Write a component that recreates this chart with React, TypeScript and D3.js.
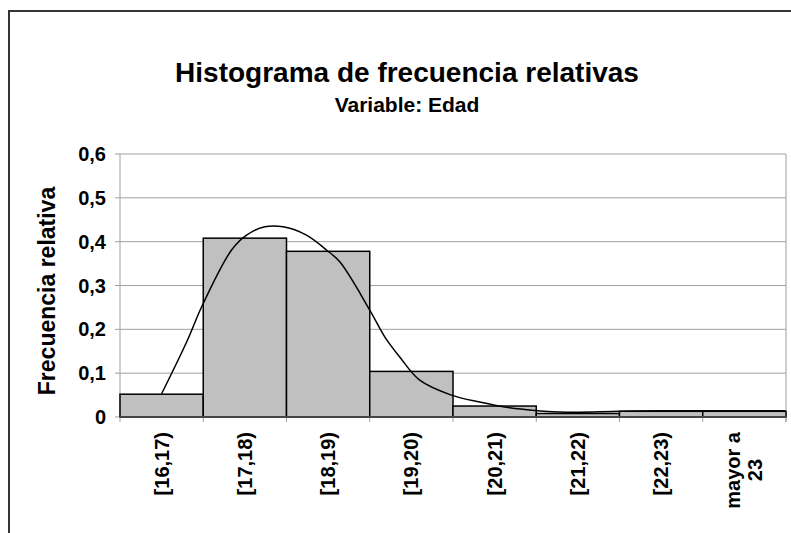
import React, { useEffect, useRef } from 'react';
import * as d3 from 'd3';

// categorías del histograma
const categories = ['[16,17)', '[17,18)', '[18,19)', '[19,20)', '[20,21)', '[21,22)', '[22,23)', 'mayor a 23'];
const frequencies = [0.052, 0.408, 0.378, 0.104, 0.025, 0.008, 0.013, 0.013];
const yTicks = [0, 0.1, 0.2, 0.3, 0.4, 0.5, 0.6];

// curva ajustada: edad (eje continuo) y valor
const curveAges = [16.5, 16.81, 16.98, 17.34, 17.52, 17.74, 17.96, 18.24, 18.48, 18.64, 19.0, 19.18, 19.36, 19.6, 19.98, 20.32, 20.68, 20.98, 21.37, 22.01, 22.49, 23.99];
const curveValues = [0.053, 0.175, 0.251, 0.381, 0.415, 0.434, 0.434, 0.415, 0.381, 0.354, 0.244, 0.183, 0.137, 0.084, 0.05, 0.034, 0.021, 0.015, 0.011, 0.013, 0.014, 0.014];

const FONT = 'Arial, "Liberation Sans", sans-serif';

function App() {
  const ref = useRef<SVGSVGElement>(null);

  const width = 791;
  const height = 533;
  const margin = { top: 154, right: 5, bottom: 116, left: 120 };

  useEffect(() => {
    drawChart();
  }, []);

  function drawChart() {
    const svg = d3.select(ref.current);
    svg.selectAll('*').remove();

    const innerW = width - margin.left - margin.right;
    const innerH = height - margin.top - margin.bottom;

    // marco exterior
    svg
      .append('path')
      .attr('d', `M9,${height} L9,11 L${width},11`)
      .attr('fill', 'none')
      .attr('stroke', '#333')
      .attr('stroke-width', 2);

    // títulos
    svg
      .append('text')
      .attr('x', 407)
      .attr('y', 82)
      .attr('text-anchor', 'middle')
      .style('font-family', FONT)
      .style('font-weight', 'bold')
      .style('font-size', '28px')
      .text('Histograma de frecuencia relativas');

    svg
      .append('text')
      .attr('x', 407)
      .attr('y', 112)
      .attr('text-anchor', 'middle')
      .style('font-family', FONT)
      .style('font-weight', 'bold')
      .style('font-size', '21px')
      .text('Variable: Edad');

    const g = svg.append('g').attr('transform', `translate(${margin.left}, ${margin.top})`);

    const x = d3.scaleBand().domain(categories).range([0, innerW]).padding(0);
    const xAge = d3.scaleLinear().domain([16, 24]).range([0, innerW]);
    const y = d3.scaleLinear().domain([0, 0.6]).range([innerH, 0]);

    // líneas de división
    g.selectAll('.grid')
      .data(yTicks.slice(1))
      .enter()
      .append('line')
      .attr('x1', 0)
      .attr('x2', innerW)
      .attr('y1', d => y(d))
      .attr('y2', d => y(d))
      .attr('stroke', '#a0a0a0')
      .attr('stroke-width', 1);

    // borde derecho del área de trazado
    g.append('line')
      .attr('x1', innerW)
      .attr('x2', innerW)
      .attr('y1', 0)
      .attr('y2', innerH + 5)
      .attr('stroke', '#a0a0a0');

    // eje Y
    g.append('line')
      .attr('x1', 0)
      .attr('x2', 0)
      .attr('y1', 0)
      .attr('y2', innerH)
      .attr('stroke', '#a0a0a0');

    g.selectAll('.ytick')
      .data(yTicks)
      .enter()
      .append('line')
      .attr('x1', -5)
      .attr('x2', 0)
      .attr('y1', d => y(d))
      .attr('y2', d => y(d))
      .attr('stroke', '#a0a0a0');

    g.selectAll('.ylabel')
      .data(yTicks)
      .enter()
      .append('text')
      .attr('x', -14)
      .attr('y', d => y(d))
      .attr('dy', '0.35em')
      .attr('text-anchor', 'end')
      .style('font-family', FONT)
      .style('font-weight', 'bold')
      .style('font-size', '20px')
      .text(d => (d === 0 ? '0' : d3.format('.1f')(d).replace('.', ',')));

    g.append('text')
      .attr('transform', `translate(${47 - margin.left}, ${291 - margin.top}) rotate(-90)`)
      .attr('text-anchor', 'middle')
      .attr('dy', '0.35em')
      .style('font-family', FONT)
      .style('font-weight', 'bold')
      .style('font-size', '23px')
      .text('Frecuencia relativa');

    // barras
    g.selectAll('.bar')
      .data(frequencies)
      .enter()
      .append('rect')
      .attr('x', (_, i) => x(categories[i]) as number)
      .attr('y', d => y(d))
      .attr('width', x.bandwidth())
      .attr('height', d => innerH - y(d))
      .attr('fill', '#c0c0c0')
      .attr('stroke', '#000')
      .attr('stroke-width', 1.5);

    // eje X
    g.selectAll('.xtick')
      .data(d3.range(categories.length + 1))
      .enter()
      .append('line')
      .attr('x1', i => i * x.bandwidth())
      .attr('x2', i => i * x.bandwidth())
      .attr('y1', innerH)
      .attr('y2', innerH + 5)
      .attr('stroke', '#a0a0a0');

    g.append('line')
      .attr('x1', 0)
      .attr('x2', innerW)
      .attr('y1', innerH)
      .attr('y2', innerH)
      .attr('stroke', '#444')
      .attr('stroke-width', 2);

    // etiquetas de categoría, giradas
    categories.forEach(c => {
      const cx = (x(c) as number) + x.bandwidth() / 2;
      const lines = c === 'mayor a 23' ? ['mayor a', '23'] : [c];
      const t = g
        .append('text')
        .attr('transform', `translate(${cx}, ${innerH + 15}) rotate(-90)`)
        .attr('text-anchor', 'end')
        .style('font-family', FONT)
        .style('font-weight', 'bold')
        .style('font-size', '20px');
      if (lines.length === 1) {
        t.append('tspan').attr('x', 0).attr('dy', '0.35em').text(lines[0]);
      } else {
        t.append('tspan').attr('x', 0).attr('dy', '-0.22em').text(lines[0]);
        t.append('tspan')
          .attr('x', -38)
          .attr('dy', '1.1em')
          .attr('text-anchor', 'middle')
          .text(lines[1]);
      }
    });

    // curva
    const lineGen = d3
      .line<number>()
      .x((_, i) => xAge(curveAges[i]))
      .y(d => y(d))
      .curve(d3.curveCatmullRom.alpha(0.5));

    g.append('path')
      .datum(curveValues)
      .attr('d', lineGen)
      .attr('fill', 'none')
      .attr('stroke', '#000')
      .attr('stroke-width', 1.5);
  }

  return (
    <svg
      ref={ref}
      width={width}
      height={height}
      style={{ display: 'block', position: 'absolute', left: 0, top: 0, background: '#fff' }}
    />
  );
}

export default App;
